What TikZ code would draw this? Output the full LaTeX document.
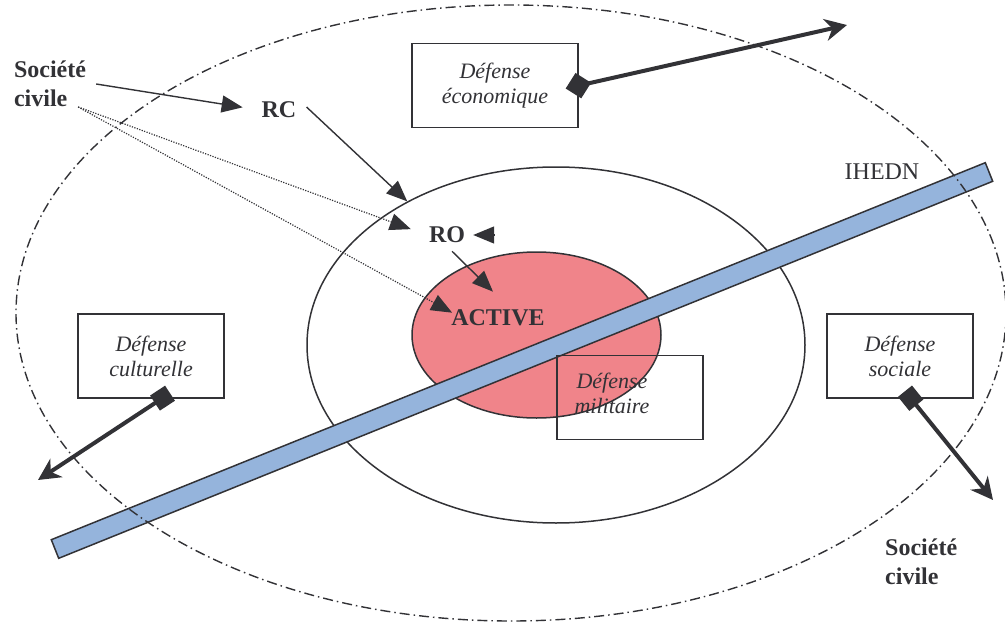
\documentclass[tikz,border=0pt]{standalone}
\usepackage{fontspec}
\setmainfont{Liberation Serif}
\usetikzlibrary{arrows.meta,shapes.geometric}

\definecolor{ink}{RGB}{50,50,54}
\definecolor{barblue}{RGB}{149,180,220}
\definecolor{activered}{RGB}{240,132,138}

\tikzset{
  defbox/.style={draw=ink, line width=1.4pt, minimum width=146pt, minimum height=84pt,
    inner sep=0pt, align=center, text=ink, font=\fontsize{22}{25}\selectfont\itshape},
  bigword/.style={text=ink, inner sep=2pt, align=left, font=\fontsize{24}{29}\selectfont\bfseries},
  thinarrow/.style={draw=ink, line width=1.4pt, -{Triangle[length=21pt,width=17pt]}},
  dotline/.style={draw=ink, line width=1.2pt, dash pattern=on 1.2pt off 1.4pt, -{Triangle[length=21pt,width=17pt]}},
  thickarrow/.style={draw=ink, line width=4pt},
  ring/.style={ellipse, draw=ink, line width=1.5pt, inner sep=0pt}
}

\begin{document}
\begin{tikzpicture}[x=1pt, y=-1pt]
\useasboundingbox (0,0) rectangle (1005,626);

% rings
\node[ring, minimum width=498pt, minimum height=356pt] (mid) at (556,345) {};
\node[ring, fill=activered, minimum width=249pt, minimum height=166pt] (core) at (536.5,335) {};

% IHEDN bar
\filldraw[fill=barblue, draw=ink, line width=1.5pt]
  (51.3,539.7) -- (58.7,558.3) -- (992.7,181.3) -- (985.3,162.7) -- cycle;

% outer ring
\draw[ink, line width=1.4pt, dash pattern=on 10pt off 4pt on 1.5pt off 4pt]
  (511,313) ellipse [x radius=495, y radius=308];

% boxes
\node[defbox, minimum width=166pt] (eco) at (495,85.5) {Défense\\économique};
\node[defbox] (cult) at (151,356) {Défense\\culturelle};
\node[defbox] (soc) at (900,356) {Défense\\sociale};
\node[defbox] (mil) at (630,397.5) {};
\node[text=ink, align=center, inner sep=0pt, font=\fontsize{22}{25}\selectfont\itshape] (miltext) at (612,393) {Défense\\militaire};

% words
\node[bigword] (sc1) at (50,84) {Société\\civile};
\node[bigword] (rc) at (279,110) {RC};
\node[bigword] (ro) at (447,235) {RO};
\node[bigword] (active) at (498,318) {ACTIVE};
\node[bigword, anchor=west] (sc2) at (883,562) {Société\\civile};
\node[text=ink, inner sep=2pt, font=\fontsize{24}{29}\selectfont] (ihedn) at (882,172) {IHEDN};

% thin arrows
\draw[thinarrow, shorten >=17pt] ([xshift=8pt]sc1.east) -- (rc.west);
\draw[thinarrow] ([shift={(8,-3)}]rc.east) -- (mid.136.6);
\draw[dotline, shorten >=17pt] ([shift={(-10,23)}]sc1.east) -- (ro.west);
\draw[dotline] ([shift={(-10,23)}]sc1.east) -- ([shift={(3,5)}]active.north west);
\draw[thinarrow] ([shift={(5,6)}]ro.south) -- ([shift={(-5,-16)}]active.north);
\draw[thinarrow, shorten >=6pt] ([xshift=27pt]ro.east) -- (ro.east);

% thick arrows
\coordinate (eco-out) at (847,25);
\coordinate (cult-out) at (38,480);
\coordinate (soc-out) at (993,500);
\draw[thickarrow, {Diamond[length=26pt,width=26pt]}-{Stealth[length=22pt,width=22pt,inset=7pt]}]
  ([shift={(-13,3)}]eco.east) -- (eco-out);
\draw[thickarrow, {Square[length=18pt,width=18pt]}-{Stealth[length=22pt,width=22pt,inset=7pt]}]
  ([shift={(19,-5.5)}]cult.south) -- (cult-out);
\draw[thickarrow, {Square[length=18pt,width=18pt]}-{Stealth[length=22pt,width=22pt,inset=7pt]}]
  ([shift={(5,-7.5)}]soc.south) -- (soc-out);
\end{tikzpicture}
\end{document}
